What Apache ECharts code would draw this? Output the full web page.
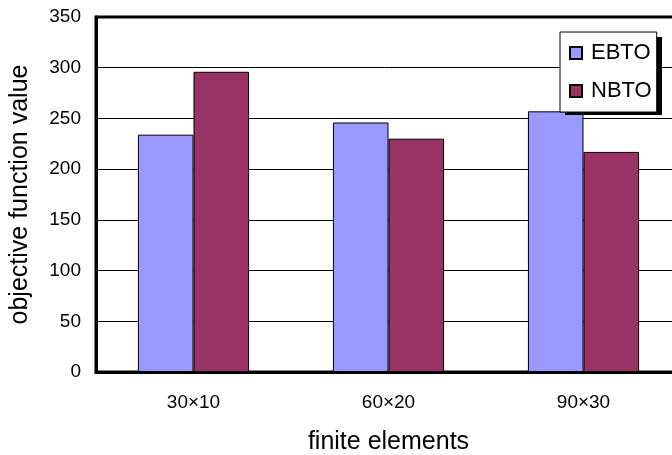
<!DOCTYPE html>
<html>
<head>
<meta charset="utf-8">
<script src="https://cdn.jsdelivr.net/npm/echarts@6/dist/echarts.min.js"></script>
<style>
  html, body { margin: 0; padding: 0; background: #fff; overflow: hidden; }
  #chart { width: 672px; height: 455px; }
</style>
</head>
<body>
<div id="chart"></div>
<script>
// Mesh sizes and objective values for the two methods
const categories = ['30×10', '60×20', '90×30'];
const ebtoValues = [234, 246, 257];
const nbtoValues = [296, 230, 217];
const yTicks = { min: 0, max: 350, interval: 50 };

const font = '"Liberation Sans", Arial, sans-serif';
const chart = echarts.init(document.getElementById('chart'));

chart.setOption({
  animation: false,
  backgroundColor: '#fff',
  grid: {
    left: 96, top: 17, width: 585, height: 355,
    outerBoundsMode: 'none',
    containLabel: false,
    show: true, borderColor: '#000', borderWidth: 3, backgroundColor: 'transparent'
  },
  // solid drop shadow behind the legend box
  graphic: {
    elements: [{
      type: 'rect', left: 565, top: 37, z: 5,
      shape: { width: 97, height: 78 },
      style: { fill: '#000' }
    }]
  },
  legend: {
    orient: 'vertical',
    left: 560, top: 32, z: 10,
    padding: [10, 5, 10, 9],
    itemGap: 16,
    itemWidth: 12, itemHeight: 12,
    icon: 'rect',
    backgroundColor: '#fff',
    borderColor: '#000', borderWidth: 1,
    textStyle: { fontFamily: font, fontSize: 22, color: '#000', padding: [0, 0, 0, 4] },
    data: ['EBTO', 'NBTO']
  },
  xAxis: {
    type: 'category',
    data: categories,
    name: 'finite elements',
    nameLocation: 'middle',
    nameGap: 58,
    nameTextStyle: { fontFamily: font, fontSize: 25, color: '#000' },
    axisLine: { lineStyle: { color: '#000', width: 3 } },
    axisTick: { show: false },
    axisLabel: { fontFamily: font, fontSize: 19, color: '#000', margin: 21 }
  },
  yAxis: {
    type: 'value',
    min: yTicks.min, max: yTicks.max, interval: yTicks.interval,
    name: 'objective function value',
    nameLocation: 'middle',
    nameGap: 63,
    nameTextStyle: { fontFamily: font, fontSize: 25, color: '#000' },
    axisLine: { show: true, lineStyle: { color: '#000', width: 3 } },
    axisTick: { show: false },
    axisLabel: { fontFamily: font, fontSize: 19, color: '#000', margin: 15 },
    splitLine: { lineStyle: { color: '#000', width: 1 } }
  },
  series: [
    {
      name: 'EBTO', type: 'bar', data: ebtoValues,
      barGap: '0%', barCategoryGap: '43%',
      itemStyle: { color: '#9999FF', borderColor: '#000', borderWidth: 1 }
    },
    {
      name: 'NBTO', type: 'bar', data: nbtoValues,
      barGap: '0%', barCategoryGap: '43%',
      itemStyle: { color: '#993366', borderColor: '#000', borderWidth: 1 }
    }
  ]
});
</script>
</body>
</html>
